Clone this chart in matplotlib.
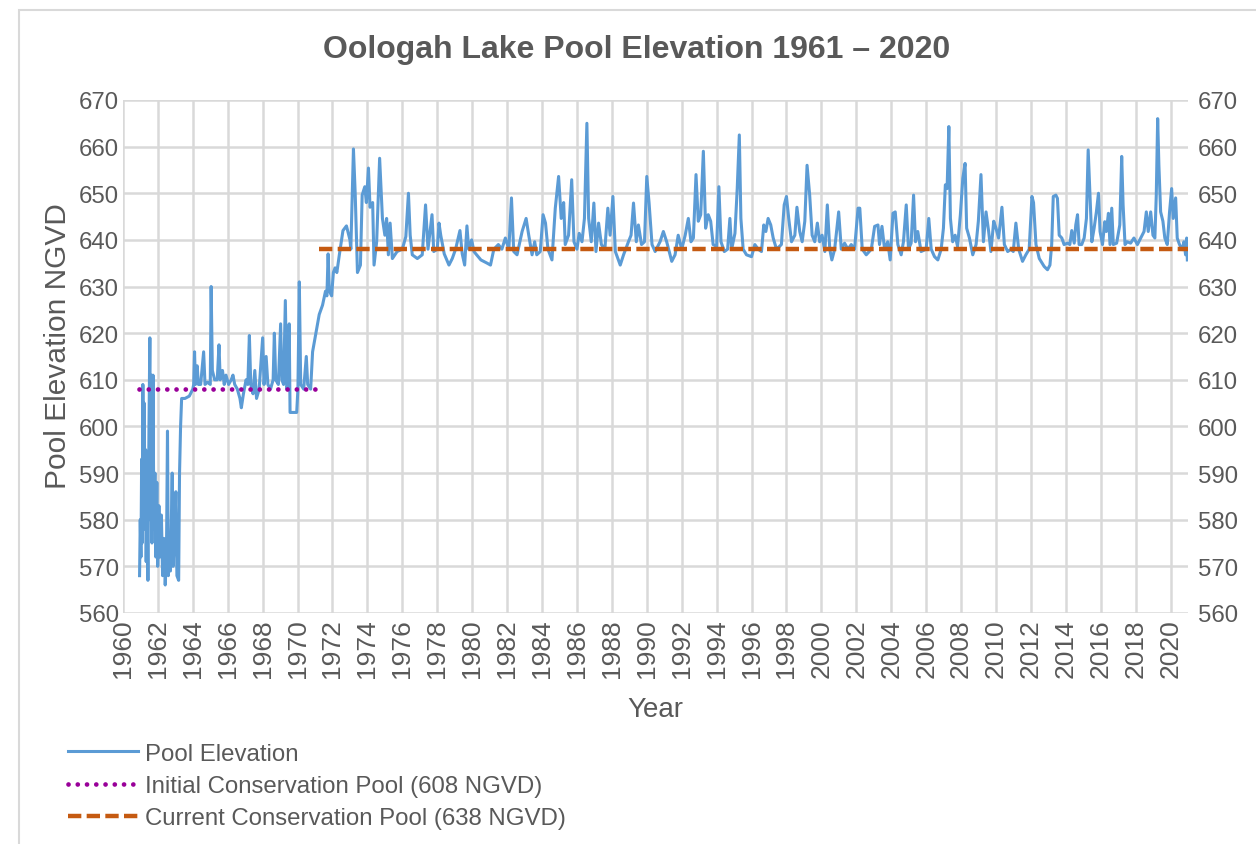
import numpy as np
import matplotlib
matplotlib.use('Agg')
import matplotlib.pyplot as plt
from matplotlib.patches import Rectangle

plt.rcParams['font.family'] = ['Liberation Sans', 'DejaVu Sans']

# Niveles (año decimal, elevacion NGVD)
years_61_64 = [1960.95, 1960.99, 1961.03, 1961.07, 1961.10, 1961.14, 1961.18, 1961.22,
               1961.26, 1961.30, 1961.33, 1961.37, 1961.43, 1961.49, 1961.54, 1961.58,
               1961.62, 1961.66, 1961.72, 1961.77, 1961.83, 1961.88, 1961.94, 1961.99,
               1962.06, 1962.12, 1962.20, 1962.27, 1962.34, 1962.42, 1962.49, 1962.55,
               1962.60, 1962.66, 1962.72, 1962.82, 1962.87, 1962.95, 1963.03, 1963.09,
               1963.19, 1963.24, 1963.30, 1963.36, 1963.55, 1963.80, 1964.00]
elev_61_64 = [568, 580, 572, 593, 575, 609, 585, 605,
              578, 595, 571, 590, 567, 600, 619, 580,
              611, 575, 611, 578, 590, 572, 588, 570,
              583, 572, 581, 568, 576, 566, 572, 599,
              568, 575, 569, 590, 570, 576, 586, 568,
              567, 590, 600, 606, 606, 606.5, 608]

years_64_72 = [1964.05, 1964.10, 1964.15, 1964.25, 1964.32, 1964.45, 1964.62, 1964.70,
               1964.85, 1965.00, 1965.05, 1965.12, 1965.25, 1965.40, 1965.50, 1965.57,
               1965.70, 1965.80, 1965.90, 1966.05, 1966.20, 1966.30, 1966.40, 1966.55,
               1966.70, 1966.78, 1966.90, 1967.05, 1967.15, 1967.24, 1967.32, 1967.45,
               1967.55, 1967.65, 1967.80, 1968.00, 1968.08, 1968.20, 1968.30, 1968.45,
               1968.60, 1968.67, 1968.75, 1968.90, 1969.03, 1969.10, 1969.20, 1969.30,
               1969.38, 1969.45, 1969.52, 1969.57, 1969.95, 1970.02, 1970.10, 1970.18,
               1970.35, 1970.50, 1970.58, 1970.75, 1970.86, 1971.05, 1971.24, 1971.43,
               1971.60, 1971.68, 1971.75, 1971.82, 1971.95]
elev_64_72 = [609, 616, 609, 613, 609, 609, 616, 609,
              609.5, 609, 630, 612, 610, 610, 617.5, 610,
              612, 609, 611, 609, 610, 611, 609, 608,
              606, 604, 607, 610, 609, 619.5, 609, 607,
              612, 606, 608, 619, 609, 615, 609, 608,
              610, 620, 610, 609, 622, 610, 609, 627,
              608, 609, 622, 603, 603, 608, 631, 609,
              608, 615, 609, 608, 616, 620, 624, 626,
              629, 628, 637, 629, 628]

years_72_82 = [1972.05, 1972.15, 1972.25, 1972.40, 1972.60, 1972.80, 1973.00, 1973.05,
               1973.20, 1973.30, 1973.43, 1973.60, 1973.70, 1973.85, 1973.94, 1974.06,
               1974.15, 1974.30, 1974.38, 1974.53, 1974.70, 1974.86, 1975.00, 1975.10,
               1975.20, 1975.30, 1975.43, 1975.70, 1976.00, 1976.20, 1976.35, 1976.45,
               1976.57, 1976.86, 1977.14, 1977.33, 1977.47, 1977.70, 1977.80, 1978.00,
               1978.10, 1978.20, 1978.40, 1978.67, 1978.86, 1979.05, 1979.20, 1979.30,
               1979.43, 1979.57, 1979.70, 1979.80, 1979.97, 1980.10, 1980.50, 1980.86,
               1981.05, 1981.24, 1981.50, 1981.70, 1981.90]
elev_72_82 = [633, 634, 633, 637, 642, 643, 640, 638,
              659.5, 650, 633, 634.6, 649.6, 651.4, 648, 655.4,
              647, 648, 634.6, 639.6, 657.5, 644.6, 641, 644.6,
              636.8, 643.6, 636, 637.5, 638, 640.7, 650, 641,
              636.8, 636, 636.8, 647.5, 638, 645.4, 637.5, 638,
              643.6, 641, 637, 634.6, 636, 638, 640.4, 642,
              637, 634.6, 643, 638, 640, 637.5, 635.7, 635,
              634.6, 638, 639, 638, 640.4]

years_82_92 = [1982.10, 1982.25, 1982.38, 1982.57, 1982.86, 1983.09, 1983.24, 1983.43,
               1983.58, 1983.70, 1983.90, 1984.06, 1984.20, 1984.34, 1984.57, 1984.76,
               1984.95, 1985.10, 1985.24, 1985.33, 1985.52, 1985.70, 1985.83, 1986.00,
               1986.13, 1986.29, 1986.43, 1986.57, 1986.67, 1986.82, 1986.97, 1987.09,
               1987.24, 1987.40, 1987.60, 1987.77, 1987.90, 1988.06, 1988.20, 1988.48,
               1988.67, 1988.95, 1989.10, 1989.24, 1989.40, 1989.52, 1989.70, 1989.87,
               1990.00, 1990.13, 1990.30, 1990.48, 1990.76, 1990.95, 1991.14, 1991.43,
               1991.62, 1991.80, 1992.00]
elev_82_92 = [638, 649, 637.5, 636.8, 641.8, 644.6, 641, 636.8,
              639.6, 636.8, 637.5, 645.4, 643.6, 638, 635.7, 646.8,
              653.6, 644.6, 648, 639, 641, 652.9, 639.6, 638,
              641.4, 639.6, 644.6, 665, 644.6, 639.6, 647.9, 637.5,
              643.6, 639, 638, 646.8, 641, 649.3, 637.5, 634.6,
              636.8, 639.6, 641, 647.9, 639.6, 643.2, 639, 639.6,
              653.6, 648, 639, 637.5, 639.6, 641.8, 639.6, 635.4,
              636.8, 641, 638]

years_92_02 = [1992.20, 1992.38, 1992.53, 1992.67, 1992.82, 1992.95, 1993.09, 1993.24,
               1993.37, 1993.52, 1993.66, 1993.80, 1994.00, 1994.13, 1994.25, 1994.44,
               1994.63, 1994.76, 1994.86, 1995.05, 1995.18, 1995.30, 1995.39, 1995.52,
               1995.71, 1996.00, 1996.19, 1996.38, 1996.57, 1996.70, 1996.82, 1996.95,
               1997.10, 1997.24, 1997.43, 1997.71, 1997.87, 1998.00, 1998.13, 1998.29,
               1998.48, 1998.60, 1998.76, 1998.90, 1999.05, 1999.18, 1999.33, 1999.47,
               1999.62, 1999.77, 1999.90, 2000.04, 2000.20, 2000.34, 2000.48, 2000.60,
               2000.76, 2000.99, 2001.14, 2001.33, 2001.52, 2001.71, 2001.90]
elev_92_02 = [641, 644.6, 639.6, 640.4, 654, 644, 645.4, 659,
              642.5, 645.4, 644, 639, 638.6, 651.4, 639.6, 637.5,
              638, 644.6, 638, 641.4, 651, 662.5, 644.6, 638,
              636.8, 636.4, 639, 638, 637.5, 643.2, 641.8, 644.6,
              643.2, 640.4, 638, 639, 647.5, 649.3, 644.6, 639.6,
              641, 647, 641.8, 639.6, 644, 656, 649.6, 641,
              639.6, 643.6, 639.6, 641, 637.5, 647.5, 638, 635.7,
              638, 646, 638, 639.3, 638, 639, 638]

years_02_12 = [2002.10, 2002.20, 2002.34, 2002.57, 2002.86, 2003.05, 2003.24, 2003.33,
               2003.47, 2003.62, 2003.80, 2003.94, 2004.10, 2004.23, 2004.38, 2004.57,
               2004.70, 2004.86, 2004.99, 2005.14, 2005.28, 2005.39, 2005.52, 2005.71,
               2006.00, 2006.15, 2006.29, 2006.48, 2006.67, 2006.86, 2006.99, 2007.10,
               2007.20, 2007.30, 2007.39, 2007.52, 2007.66, 2007.80, 2007.96, 2008.10,
               2008.23, 2008.32, 2008.48, 2008.67, 2008.86, 2008.99, 2009.14, 2009.28,
               2009.43, 2009.58, 2009.71, 2009.87, 2010.00, 2010.15, 2010.34, 2010.48,
               2010.67, 2010.86, 2010.99, 2011.14, 2011.30, 2011.52, 2011.71, 2011.90]
elev_02_12 = [646.8, 646.8, 638, 636.8, 638, 642.9, 643.2, 639,
              642.9, 638, 639.6, 635.7, 645.7, 646, 639, 636.8,
              639.6, 647.5, 638, 639.3, 649.6, 639.6, 641.8, 637.5,
              638, 644.6, 638, 636.4, 635.7, 638, 642.5, 651.8,
              651, 664.3, 644.6, 639.6, 641, 638.6, 645.4, 653.2,
              656.4, 642.5, 640.4, 636.8, 639, 644, 654, 639.6,
              646, 641.8, 637.5, 644, 642.5, 640.4, 647, 639,
              637.5, 638, 637.5, 643.6, 638, 635.4, 636.8, 638]

years_12_21 = [2012.06, 2012.15, 2012.29, 2012.48, 2012.76, 2012.95, 2013.09, 2013.19,
               2013.28, 2013.43, 2013.52, 2013.62, 2013.77, 2013.90, 2014.10, 2014.23,
               2014.34, 2014.48, 2014.57, 2014.67, 2014.76, 2014.91, 2015.05, 2015.18,
               2015.28, 2015.37, 2015.49, 2015.62, 2015.75, 2015.87, 2015.96, 2016.10,
               2016.23, 2016.32, 2016.44, 2016.53, 2016.63, 2016.72, 2016.91, 2017.09,
               2017.20, 2017.28, 2017.39, 2017.52, 2017.71, 2017.90, 2018.10, 2018.29,
               2018.48, 2018.61, 2018.72, 2018.86, 2018.99, 2019.10, 2019.18, 2019.26,
               2019.33, 2019.43, 2019.56, 2019.67, 2019.81, 2019.94, 2020.06, 2020.15,
               2020.29, 2020.38, 2020.51, 2020.67, 2020.76, 2020.86, 2020.92, 2020.96]
elev_12_21 = [649.3, 648, 639, 636, 634.3, 633.6, 634.6, 639,
              649.3, 649.6, 648.9, 641, 640.4, 639, 639.3, 639,
              642, 639.3, 643.2, 645.4, 639, 639, 640.4, 644.6,
              659.3, 651, 639.6, 642.5, 646, 650, 641.8, 639,
              643.9, 641.8, 645.7, 639, 646.8, 639, 639.3, 643.2,
              657.9, 647.5, 639, 639.6, 639.3, 640.4, 639, 640.4,
              641.8, 646, 641.8, 646, 641, 640.4, 649.6, 666,
              656, 646, 644, 640.4, 639, 646, 651, 644.6,
              649, 640.4, 639, 637.9, 639.6, 636.8, 640.4, 635.7]

initial_pool = 608
initial_pool_years = [1960.92, 1971.15]
current_pool = 638
current_pool_years = [1971.2, 2020.98]

year_ticks = list(range(1960, 2021, 2))
elev_ticks = list(range(560, 671, 10))

years = np.concatenate([years_61_64, years_64_72, years_72_82, years_82_92,
                        years_92_02, years_02_12, years_12_21])
elev = np.concatenate([elev_61_64, elev_64_72, elev_72_82, elev_82_92,
                       elev_92_02, elev_02_12, elev_12_21])

gris = '#595959'

fig = plt.figure(figsize=(12.56, 8.45), dpi=100)
fig.patches.append(Rectangle((0.015, -0.01), 1.0, 0.997, transform=fig.transFigure,
                             fill=False, edgecolor='#D9D9D9', linewidth=1.5))
ax = fig.add_axes([0.0979, 0.2734, 0.848, 0.6071])

ax.plot(years, elev, color='#5B9BD5', lw=2.2, zorder=3, label='Pool Elevation')
ax.plot(initial_pool_years, [initial_pool] * 2, color='#990099', lw=3.4,
        linestyle=(0, (0.01, 1.95)), dash_capstyle='round', zorder=4,
        label='Initial Conservation Pool (608 NGVD)')
ax.plot(current_pool_years, [current_pool] * 2, color='#C55A11', lw=3.2,
        linestyle=(0, (3.0, 1.2)), zorder=4,
        label='Current Conservation Pool (638 NGVD)')

ax.set_xlim(1960, 2021.0)
ax.set_ylim(560, 670)
ax.set_xticks(year_ticks)
ax.set_yticks(elev_ticks)
ax.set_xticklabels([str(y) for y in year_ticks], rotation=90)
ax.grid(True, color='#D9D9D9', lw=1.8, zorder=0)
ax.set_axisbelow(True)
for s in ax.spines.values():
    s.set_visible(False)
ax.tick_params(axis='both', length=0, labelcolor=gris)
ax.tick_params(axis='x', pad=4, labelsize=19)
ax.tick_params(axis='y', pad=3, labelsize=17.3)

# eje derecho con las mismas etiquetas
ax2 = ax.twinx()
ax2.set_ylim(560, 670)
ax2.set_yticks(elev_ticks)
for s in ax2.spines.values():
    s.set_visible(False)
ax2.tick_params(axis='y', length=0, labelsize=17.3, labelcolor=gris, pad=7)

ax.set_ylabel('Pool Elevation NGVD', fontsize=21.5, color=gris)
ax.yaxis.set_label_coords(-0.048, 0.522)
ax.set_xlabel('Year', fontsize=20, color=gris)
ax.xaxis.set_label_coords(0.5, -0.162)

fig.text(0.507, 0.941, 'Oologah Lake Pool Elevation 1961 \u2013 2020', ha='center',
         va='center', fontsize=23, fontweight='bold', color=gris)

h, l = ax.get_legend_handles_labels()
leg = fig.legend(h, l, loc='upper left', bbox_to_anchor=(0.054, 0.120), frameon=False,
                 fontsize=17.3, handlelength=2.9, handletextpad=0.33, labelspacing=0.43,
                 borderpad=0, borderaxespad=0)
for t in leg.get_texts():
    t.set_color(gris)

fig.savefig('out.png', dpi=100, facecolor='white')
